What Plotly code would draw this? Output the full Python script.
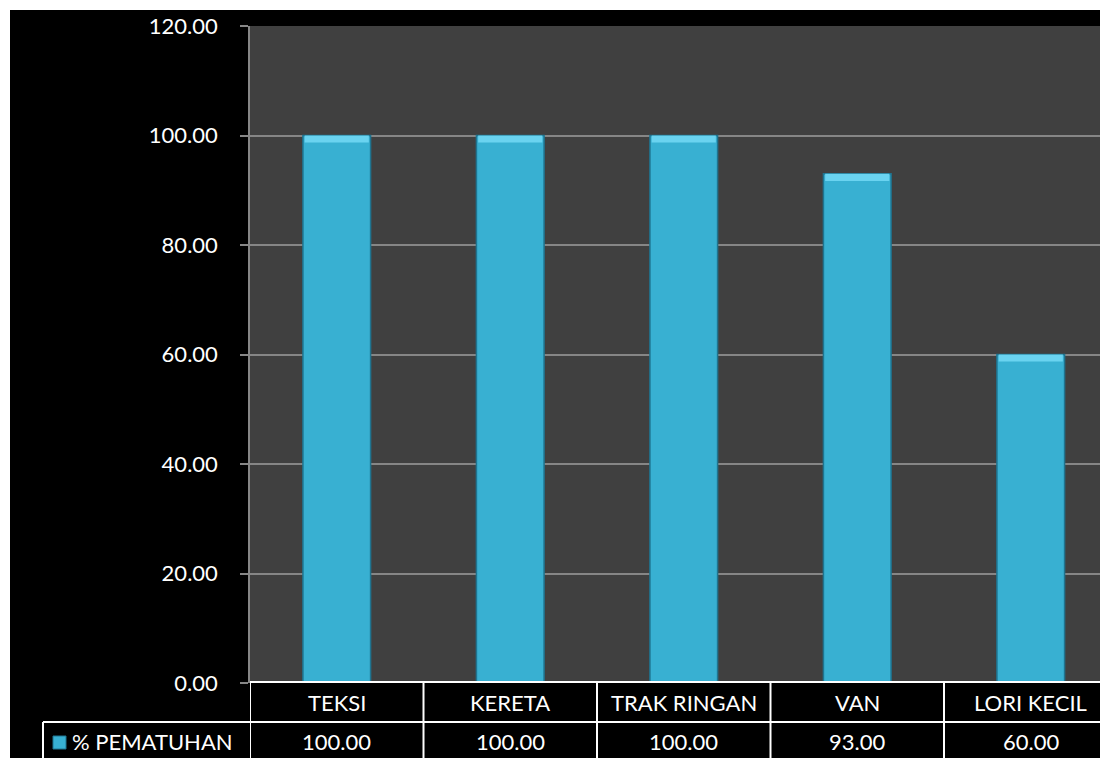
import plotly.graph_objects as go

categories = ["TEKSI", "KERETA", "TRAK RINGAN", "VAN", "LORI KECIL"]
values = [100.00, 100.00, 100.00, 93.00, 60.00]
series_name = "% PEMATUHAN"
y_ticks = [0, 20, 40, 60, 80, 100, 120]

# page body has an 8px margin; the figure starts at screen (8, 8)
OFF = 8
W, H = 1108 - OFF, 758 - OFF
L, R, T, B = 250 - OFF, 0, 26 - OFF, 758 - 683
pw, ph = W - L - R, H - T - B

def px_x(p):  # screen px -> paper
    return (p - OFF - L) / pw

def px_y(p):
    return (H - B - (p - OFF)) / ph

FONT = "Lato"
BAR = "#38B0D2"
EDGE = "#1F7490"
fig = go.Figure()
fig.add_trace(go.Bar(
    x=list(range(len(categories))), y=values, name=series_name,
    width=0.39,
    marker=dict(color=BAR, line=dict(color=EDGE, width=1.5)),
    showlegend=False,
))
# bevel highlight on the top of each bar
bevel = 1.3
fig.add_trace(go.Bar(
    x=list(range(len(categories))), y=[bevel] * len(values),
    base=[v - bevel for v in values], width=0.37,
    marker=dict(color="#6AD3F0", line=dict(width=0)),
    showlegend=False, hoverinfo="skip",
))

shapes = []
# white strips at top & left (beyond the 8px page margin)
shapes.append(dict(type="rect", xref="paper", yref="paper", x0=px_x(OFF), x1=1.0,
                   y0=px_y(10), y1=px_y(OFF), fillcolor="white", line=dict(width=0), layer="above"))
shapes.append(dict(type="rect", xref="paper", yref="paper", x0=px_x(OFF), x1=px_x(10),
                   y0=px_y(758), y1=px_y(OFF), fillcolor="white", line=dict(width=0), layer="above"))

lc = dict(color="white", width=2)
row1_top = px_y(682)
row2_top = px_y(722)
bottom = px_y(760)
shapes.append(dict(type="line", xref="paper", yref="paper", x0=0, x1=1.0, y0=row1_top, y1=row1_top, line=lc))
shapes.append(dict(type="line", xref="paper", yref="paper", x0=px_x(43), x1=1.0, y0=row2_top, y1=row2_top, line=lc))
shapes.append(dict(type="line", xref="paper", yref="paper", x0=px_x(43), x1=px_x(43), y0=bottom, y1=row2_top, line=lc))
for i in range(len(categories)):
    shapes.append(dict(type="line", xref="x", yref="paper", x0=i - 0.5, x1=i - 0.5,
                       y0=bottom, y1=row1_top, line=lc))
# legend key
shapes.append(dict(type="rect", xref="paper", yref="paper", x0=px_x(53), x1=px_x(66),
                   y0=px_y(749), y1=px_y(736), fillcolor=BAR,
                   line=dict(color=EDGE, width=1)))

annotations = []
tf = dict(family=FONT, size=22, color="white")
for i, (c, v) in enumerate(zip(categories, values)):
    annotations.append(dict(x=i, y=px_y(702), xref="x", yref="paper", text=c,
                            showarrow=False, font=tf, xanchor="center", yanchor="middle"))
    annotations.append(dict(x=i, y=px_y(741), xref="x", yref="paper", text=f"{v:.2f}",
                            showarrow=False, font=tf, xanchor="center", yanchor="middle"))
annotations.append(dict(x=px_x(70), y=px_y(741), xref="paper", yref="paper", text=series_name,
                        showarrow=False, font=tf, xanchor="left", yanchor="middle"))

fig.update_layout(
    width=W, height=H,
    margin=dict(l=L, r=R, t=T, b=B, pad=0),
    paper_bgcolor="black", plot_bgcolor="#404040",
    shapes=shapes, annotations=annotations,
    barmode="overlay",
    xaxis=dict(range=[-0.5, -0.5 + pw / 173.5], showticklabels=False, showgrid=False,
               zeroline=False, ticks=""),
    yaxis=dict(range=[0, 120], tickvals=y_ticks, ticktext=[f"{t:.2f}" for t in y_ticks],
               showgrid=True, gridcolor="#868686", gridwidth=1.5, zeroline=False,
               showline=True, linecolor="#868686", linewidth=1.5,
               ticks="outside", ticklen=8, tickcolor="#868686", tickwidth=1.5,
               ticklabelstandoff=18,
               tickfont=dict(family=FONT, size=22, color="white")),
)

fig.write_html("out.html")
